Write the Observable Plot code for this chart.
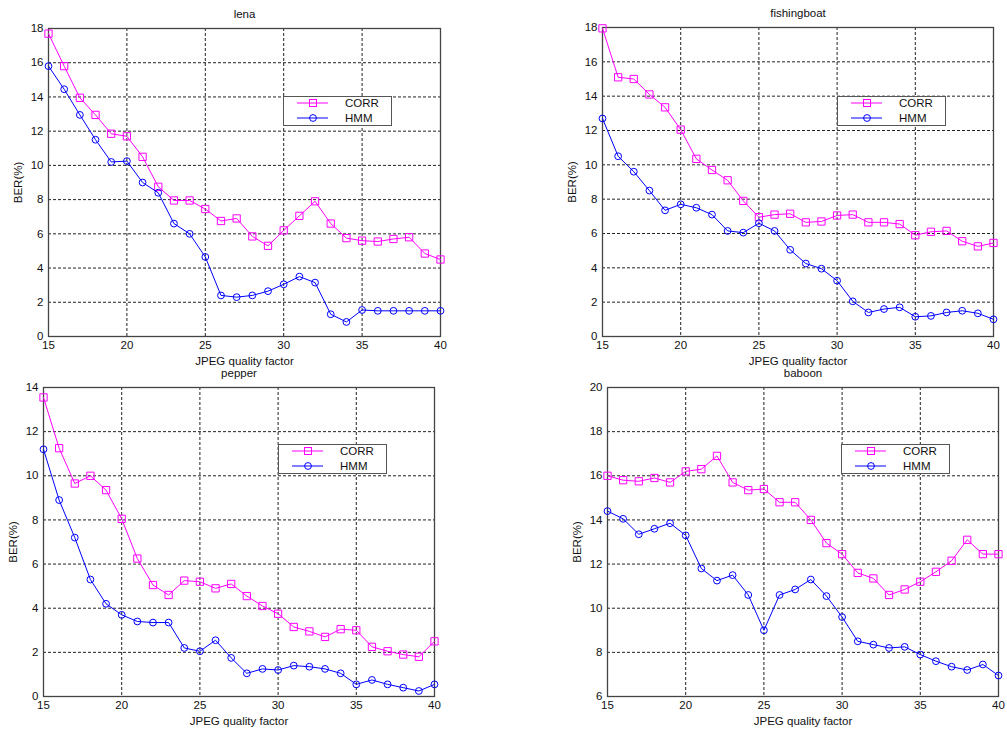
<!DOCTYPE html>
<html>
<head>
<meta charset="utf-8">
<script src="https://cdn.jsdelivr.net/npm/d3@7"></script>
<script src="https://cdn.jsdelivr.net/npm/@observablehq/plot@0.6"></script>
<style>
  body { margin: 0; background: #fff; }
  #wrap { position: relative; width: 1007px; height: 731px; overflow: hidden; background: #fff;
          font-family: "Liberation Sans", Arial, sans-serif; }
  .panel { position: absolute; }
  .panel svg { overflow: visible; }
  .legend { position: absolute; width: 109px; height: 30px; box-sizing: border-box;
            background: #fff; border: 1.5px solid #555; }
  .legend .sw { position: absolute; left: 0; }
  .legend .lb { position: absolute; left: 61px; font-size: 11.5px; line-height: 14px; color: #111; }
</style>
</head>
<body>
<div id="wrap"></div>
<script>
// ---------- data ----------
const quality = [15,16,17,18,19,20,21,22,23,24,25,26,27,28,29,30,31,32,33,34,35,36,37,38,39,40];
const xTicks = [15,20,25,30,35,40];
const seriesNames = ["CORR", "HMM"];

const lenaCorr = [17.7,15.8,13.95,12.95,11.85,11.7,10.5,8.75,7.95,7.95,7.45,6.75,6.9,5.85,5.3,6.2,7.05,7.9,6.6,5.75,5.6,5.55,5.7,5.8,4.85,4.5];
const lenaHmm  = [15.8,14.45,12.95,11.5,10.2,10.25,9.0,8.4,6.6,6.0,4.65,2.4,2.3,2.4,2.65,3.05,3.5,3.15,1.3,0.85,1.55,1.5,1.5,1.5,1.5,1.5];

const boatCorr = [17.95,15.1,15.0,14.1,13.35,12.05,10.35,9.7,9.1,7.9,6.95,7.1,7.15,6.65,6.7,7.05,7.1,6.65,6.65,6.55,5.9,6.1,6.15,5.55,5.25,5.45];
const boatHmm  = [12.7,10.5,9.6,8.5,7.35,7.7,7.5,7.1,6.15,6.05,6.6,6.15,5.05,4.25,3.95,3.25,2.05,1.4,1.6,1.7,1.15,1.2,1.4,1.5,1.35,1.0];

const pepperCorr = [13.55,11.25,9.65,10.0,9.35,8.05,6.25,5.05,4.6,5.25,5.2,4.9,5.1,4.55,4.1,3.75,3.15,2.95,2.7,3.05,3.0,2.25,2.05,1.9,1.8,2.5];
const pepperHmm  = [11.2,8.9,7.2,5.3,4.2,3.7,3.4,3.35,3.35,2.2,2.05,2.55,1.75,1.05,1.25,1.2,1.4,1.35,1.25,1.05,0.55,0.75,0.55,0.4,0.25,0.55];

const baboonCorr = [16.0,15.8,15.75,15.9,15.7,16.2,16.3,16.9,15.7,15.35,15.4,14.8,14.8,14.0,12.95,12.45,11.6,11.35,10.6,10.85,11.2,11.65,12.15,13.1,12.45,12.45];
const baboonHmm  = [14.4,14.05,13.35,13.6,13.85,13.3,11.8,11.25,11.5,10.6,9.0,10.6,10.85,11.3,10.55,9.6,8.5,8.35,8.2,8.25,7.9,7.6,7.35,7.2,7.45,6.95];

const yTicks18 = [0,2,4,6,8,10,12,14,16,18];
const yTicks14 = [0,2,4,6,8,10,12,14];
const yTicks20 = [6,8,10,12,14,16,18,20];

const titles = ["lena", "fishingboat", "pepper", "baboon"];
const xLabel = "JPEG quality factor";
const yLabel = "BER(%)";

const colors = {CORR: "#ff00ff", HMM: "#0000ff"};
const symbols = {CORR: "square", HMM: "circle"};

// ---------- layout ----------
const panels = [
  {title: titles[0], corr: lenaCorr,   hmm: lenaHmm,   yDomain: [0,18], yTicks: yTicks18,
   left: 0,   top: 0,   width: 460, height: 368, mL: 48,  mR: 20, mT: 28, mB: 32, legend: [283, 96]},
  {title: titles[1], corr: boatCorr,   hmm: boatHmm,   yDomain: [0,18], yTicks: yTicks18,
   left: 500, top: 0,   width: 507, height: 368, mL: 102, mR: 14, mT: 27, mB: 32, legend: [337, 96]},
  {title: titles[2], corr: pepperCorr, hmm: pepperHmm, yDomain: [0,14], yTicks: yTicks14,
   left: 0,   top: 360, width: 460, height: 371, mL: 43,  mR: 26, mT: 27, mB: 35, legend: [278, 84]},
  {title: titles[3], corr: baboonCorr, hmm: baboonHmm, yDomain: [6,20], yTicks: yTicks20,
   left: 500, top: 360, width: 507, height: 371, mL: 107, mR: 9,  mT: 27, mB: 35, legend: [341, 84]}
];

const wrap = document.getElementById("wrap");
const font = "Liberation Sans, Arial, sans-serif";

for (const p of panels) {
  const corrRows = quality.map((q, i) => ({q, ber: p.corr[i], s: "CORR"}));
  const hmmRows  = quality.map((q, i) => ({q, ber: p.hmm[i],  s: "HMM"}));
  const dash = {stroke: "#222", strokeOpacity: 1, strokeWidth: 1, strokeDasharray: "3,2"};

  const chart = Plot.plot({
    width: p.width, height: p.height,
    marginLeft: p.mL, marginRight: p.mR, marginTop: p.mT, marginBottom: p.mB,
    style: {fontFamily: font, fontSize: "11px", background: "transparent", color: "#111", overflow: "visible"},
    x: {domain: [15, 40], ticks: xTicks, tickSize: 0, tickPadding: 4, label: null},
    y: {domain: p.yDomain, ticks: p.yTicks, tickSize: 0, tickPadding: 5, label: null},
    marks: [
      Plot.frame({fill: "#fff"}),
      Plot.gridX(xTicks.slice(1, -1), dash),
      Plot.gridY(p.yTicks.slice(1, -1), dash),
      Plot.frame({stroke: "#444", strokeWidth: 1.3}),
      Plot.line(corrRows, {x: "q", y: "ber", stroke: colors.CORR, strokeWidth: 1}),
      Plot.dot(corrRows, {x: "q", y: "ber", symbol: symbols.CORR, r: 4.1, stroke: colors.CORR, fill: "none", strokeWidth: 1}),
      Plot.line(hmmRows, {x: "q", y: "ber", stroke: colors.HMM, strokeWidth: 1}),
      Plot.dot(hmmRows, {x: "q", y: "ber", symbol: symbols.HMM, r: 3.4, stroke: colors.HMM, fill: "none", strokeWidth: 1}),
      Plot.axisX({ticks: xTicks, tickSize: 0, tickPadding: 4, label: null, fontSize: 11.5}),
      Plot.axisY({ticks: p.yTicks, tickSize: 0, tickPadding: 5, label: null, fontSize: 11.5}),
      Plot.text([p.title], {frameAnchor: "top", dy: -14, lineAnchor: "middle", textAnchor: "middle", fontSize: 11.5, fill: "#111"}),
      Plot.text([xLabel], {frameAnchor: "bottom", dy: 25, lineAnchor: "middle", textAnchor: "middle", fontSize: 11.5, fill: "#111"}),
      Plot.text([yLabel], {frameAnchor: "left", dx: -30, rotate: -90, lineAnchor: "middle", textAnchor: "middle", fontSize: 11.5, fill: "#111"})
    ]
  });

  const div = document.createElement("div");
  div.className = "panel";
  div.style.left = p.left + "px";
  div.style.top = p.top + "px";
  div.appendChild(chart);

  // legend
  const lg = document.createElement("div");
  lg.className = "legend";
  lg.style.left = p.legend[0] + "px";
  lg.style.top = p.legend[1] + "px";
  seriesNames.forEach((name, i) => {
    const cy = i === 0 ? 6 : 21;
    const c = colors[name];
    const marker = symbols[name] === "square"
      ? `<rect x="25.5" y="3.5" width="7" height="7" fill="none" stroke="${c}"/>`
      : `<circle cx="29" cy="7" r="3.4" fill="none" stroke="${c}"/>`;
    const sw = document.createElement("div");
    sw.className = "sw";
    sw.style.top = (cy - 7) + "px";
    sw.innerHTML = `<svg width="50" height="14"><line x1="13" x2="44" y1="7" y2="7" stroke="${c}"/>${marker}</svg>`;
    const lb = document.createElement("div");
    lb.className = "lb";
    lb.style.top = (cy - 7) + "px";
    lb.textContent = name;
    lg.appendChild(sw);
    lg.appendChild(lb);
  });
  div.appendChild(lg);
  wrap.appendChild(div);
}
</script>
</body>
</html>
